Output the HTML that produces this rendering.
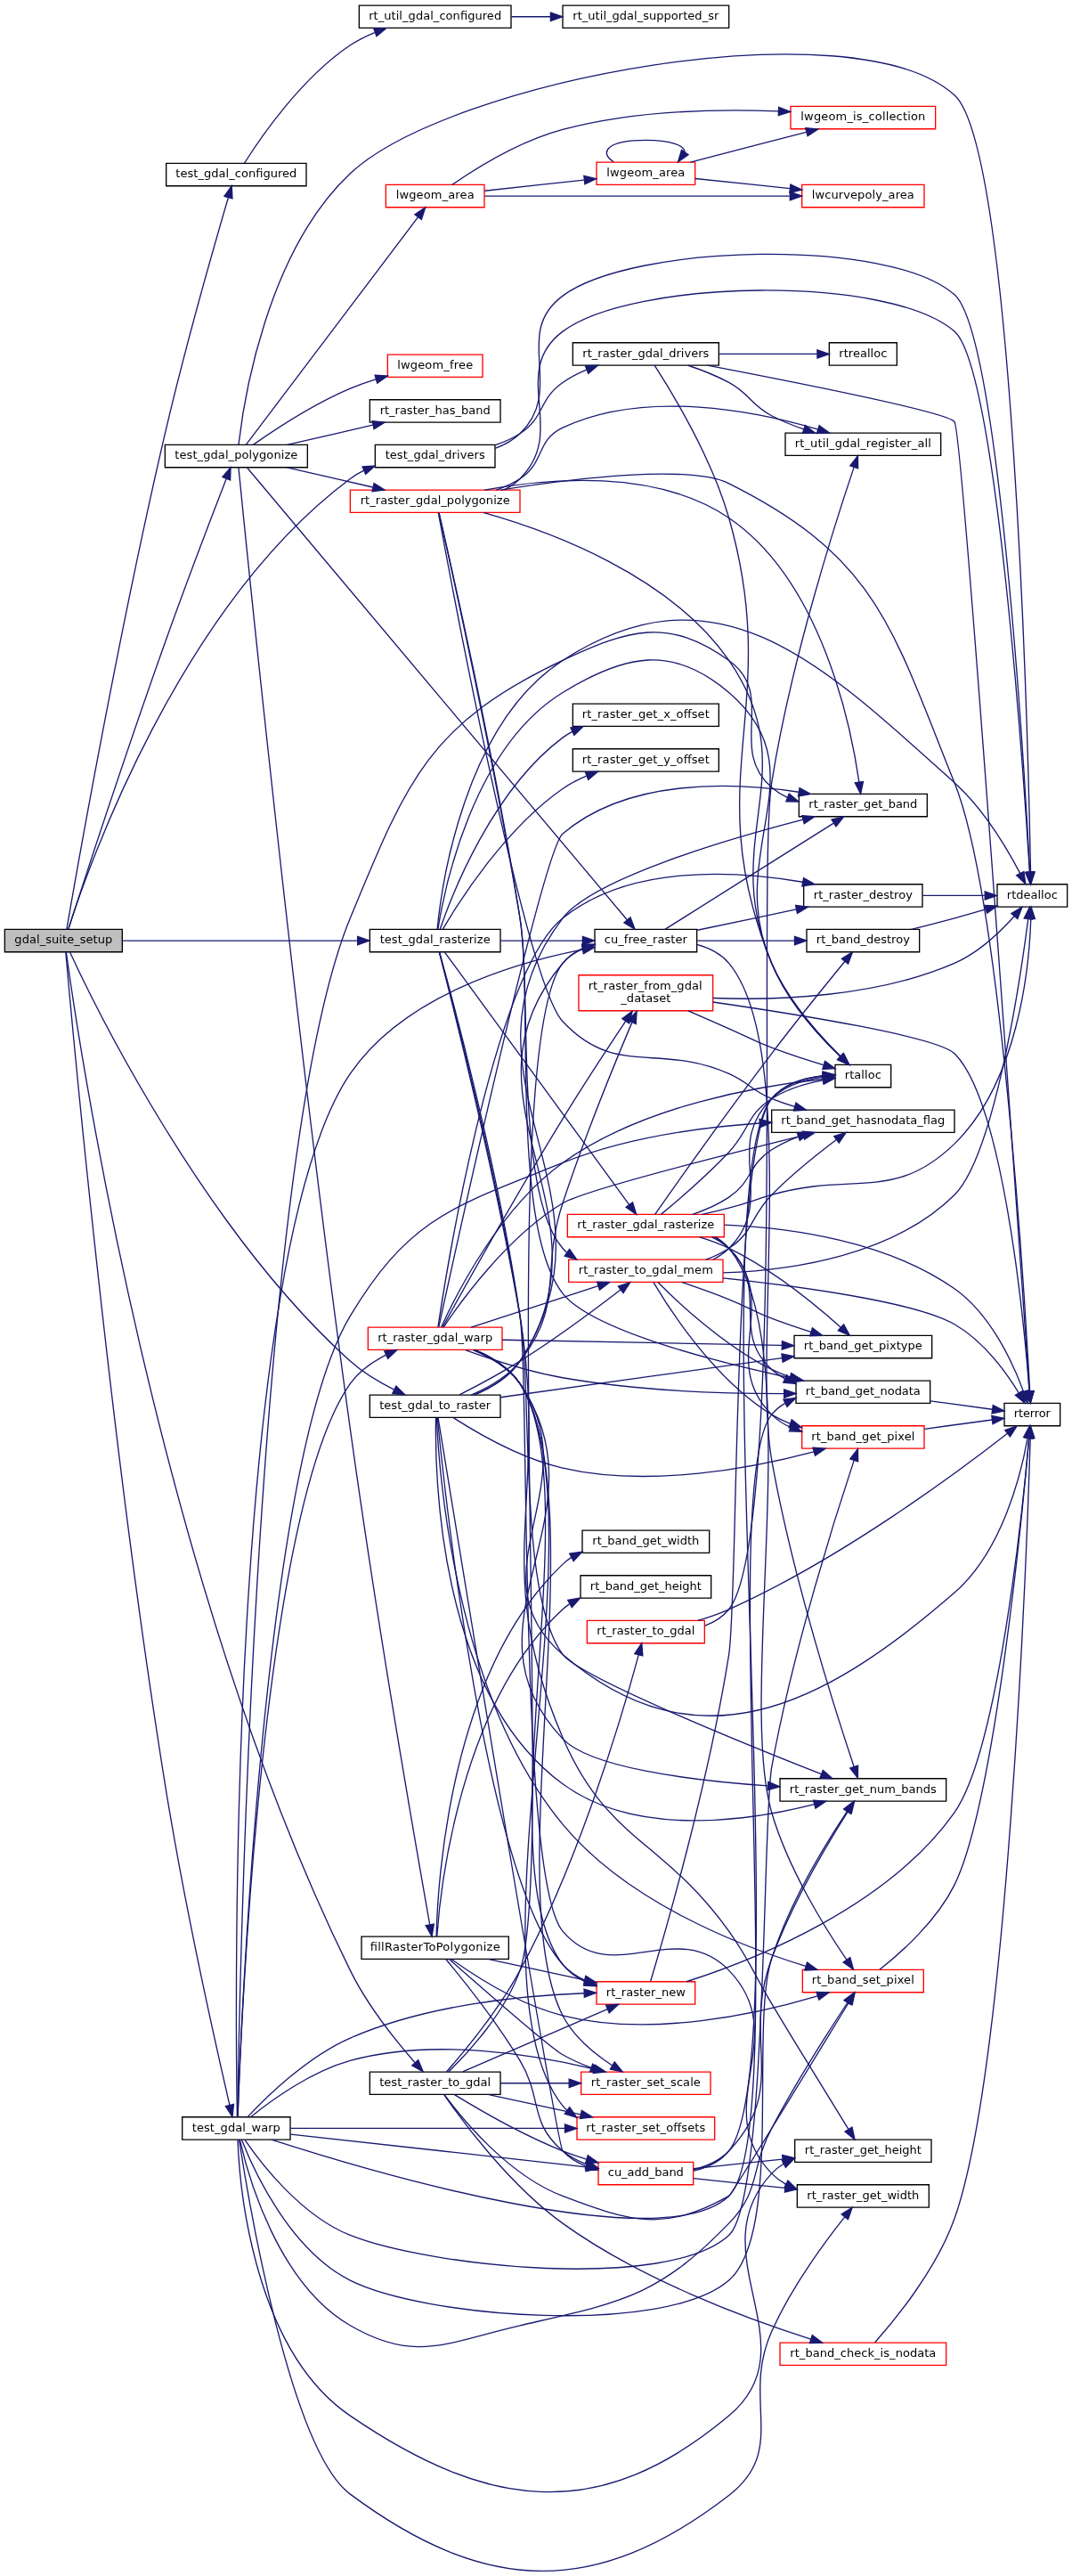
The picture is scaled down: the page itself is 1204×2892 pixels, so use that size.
<!DOCTYPE html>
<html><head><meta charset="utf-8"><title>gdal_suite_setup call graph</title>
<style>
html,body{margin:0;padding:0;background:#fff;overflow:hidden}
svg{display:block;will-change:transform}
svg text{font-family:"DejaVu Sans","Liberation Sans",sans-serif;font-size:9.75px;}
</style></head><body>
<svg width="903pt" height="2169pt"
 viewBox="0.00 0.00 903.00 2168.83">
<g id="graph0" class="graph" transform="scale(1 1) rotate(0) translate(4 2164.83)">
<polygon fill="white" stroke="transparent" points="-4,4 -4,-2164.83 899,-2164.83 899,4 -4,4"/>
<g id="node1" class="node">
<polygon fill="#bfbfbf" stroke="black" points="0,-1363.33 0,-1382.33 99,-1382.33 99,-1363.33 0,-1363.33"/>
<text text-anchor="middle" x="49.5" y="-1370.33" textLength="82.50">gdal_suite_setup</text>
</g>
<g id="node2" class="node">
<polygon fill="white" stroke="black" points="136,-2008.33 136,-2027.33 254,-2027.33 254,-2008.33 136,-2008.33"/>
<text text-anchor="middle" x="195" y="-2015.33" textLength="102.00">test_gdal_configured</text>
</g>
<g id="edge1" class="edge">
<path fill="none" stroke="midnightblue" d="M52.16,-1382.5C60.18,-1428.97 96.18,-1633.9 135,-1799.83 152.32,-1873.84 177.24,-1960.77 188.32,-1998.61"/>
<polygon fill="midnightblue" stroke="midnightblue" points="185,-1999.72 191.18,-2008.32 191.71,-1997.74 185,-1999.72"/>
</g>
<g id="node5" class="node">
<polygon fill="white" stroke="black" points="312,-1771.33 312,-1790.33 413,-1790.33 413,-1771.33 312,-1771.33"/>
<text text-anchor="middle" x="362.5" y="-1778.33" textLength="84.00">test_gdal_drivers</text>
</g>
<g id="edge4" class="edge">
<path fill="none" stroke="midnightblue" d="M53.49,-1382.53C69.15,-1431.58 146.45,-1654.17 291,-1761.83 294.59,-1764.5 298.52,-1766.79 302.64,-1768.77"/>
<polygon fill="midnightblue" stroke="midnightblue" points="301.32,-1772 311.9,-1772.59 303.99,-1765.54 301.32,-1772"/>
</g>
<g id="node12" class="node">
<polygon fill="white" stroke="black" points="135,-1771.33 135,-1790.33 255,-1790.33 255,-1771.33 135,-1771.33"/>
<text text-anchor="middle" x="195" y="-1778.33" textLength="103.50">test_gdal_polygonize</text>
</g>
<g id="edge11" class="edge">
<path fill="none" stroke="midnightblue" d="M53.6,-1382.44C64.43,-1415.9 101.68,-1530.27 135,-1623.83 152.83,-1673.91 175.24,-1732.41 186.63,-1761.85"/>
<polygon fill="midnightblue" stroke="midnightblue" points="183.42,-1763.25 190.29,-1771.31 189.94,-1760.72 183.42,-1763.25"/>
</g>
<g id="node39" class="node">
<polygon fill="white" stroke="black" points="307.5,-1363.33 307.5,-1382.33 417.5,-1382.33 417.5,-1363.33 307.5,-1363.33"/>
<text text-anchor="middle" x="362.5" y="-1370.33" textLength="93.00">test_gdal_rasterize</text>
</g>
<g id="edge61" class="edge">
<path fill="none" stroke="midnightblue" d="M99.09,-1372.83C152.36,-1372.83 238.06,-1372.83 296.94,-1372.83"/>
<polygon fill="midnightblue" stroke="midnightblue" points="297.24,-1376.33 307.24,-1372.83 297.24,-1369.33 297.24,-1376.33"/>
</g>
<g id="node43" class="node">
<polygon fill="white" stroke="black" points="307.5,-971.33 307.5,-990.33 417.5,-990.33 417.5,-971.33 307.5,-971.33"/>
<text text-anchor="middle" x="362.5" y="-978.33" textLength="93.75">test_gdal_to_raster</text>
</g>
<g id="edge80" class="edge">
<path fill="none" stroke="midnightblue" d="M54.9,-1363.14C75.57,-1318.57 167.17,-1130.58 291,-1018.83 301.78,-1009.1 315.49,-1000.99 327.95,-994.79"/>
<polygon fill="midnightblue" stroke="midnightblue" points="329.62,-997.87 337.16,-990.43 326.62,-991.54 329.62,-997.87"/>
</g>
<g id="node45" class="node">
<polygon fill="white" stroke="black" points="149.5,-363.33 149.5,-382.33 240.5,-382.33 240.5,-363.33 149.5,-363.33"/>
<text text-anchor="middle" x="195" y="-370.33" textLength="74.25">test_gdal_warp</text>
</g>
<g id="edge94" class="edge">
<path fill="none" stroke="midnightblue" d="M51.35,-1363.18C56.88,-1300.77 89.14,-947.77 135,-662.83 151.48,-560.43 178.65,-439.21 189.41,-392.52"/>
<polygon fill="midnightblue" stroke="midnightblue" points="192.87,-393.07 191.72,-382.54 186.06,-391.49 192.87,-393.07"/>
</g>
<g id="node48" class="node">
<polygon fill="white" stroke="black" points="307.5,-401.33 307.5,-420.33 417.5,-420.33 417.5,-401.33 307.5,-401.33"/>
<text text-anchor="middle" x="362.5" y="-408.33" textLength="93.75">test_raster_to_gdal</text>
</g>
<g id="edge122" class="edge">
<path fill="none" stroke="midnightblue" d="M51.82,-1362.93C61.73,-1290.45 128.81,-835.13 291,-505.83 305.51,-476.38 329.38,-446.67 345.27,-428.5"/>
<polygon fill="midnightblue" stroke="midnightblue" points="348.31,-430.36 352.36,-420.56 343.09,-425.7 348.31,-430.36"/>
</g>
<g id="node3" class="node">
<polygon fill="white" stroke="black" points="298.5,-2141.33 298.5,-2160.33 426.5,-2160.33 426.5,-2141.33 298.5,-2141.33"/>
<text text-anchor="middle" x="362.5" y="-2148.33" textLength="111.75">rt_util_gdal_configured</text>
</g>
<g id="edge2" class="edge">
<path fill="none" stroke="midnightblue" d="M201.86,-2027.49C215.12,-2048.57 249.52,-2098.99 291,-2126.83 297.27,-2131.04 304.36,-2134.58 311.55,-2137.53"/>
<polygon fill="midnightblue" stroke="midnightblue" points="310.78,-2140.98 321.37,-2141.2 313.23,-2134.42 310.78,-2140.98"/>
</g>
<g id="node4" class="node">
<polygon fill="white" stroke="black" points="470,-2141.33 470,-2160.33 610,-2160.33 610,-2141.33 470,-2141.33"/>
<text text-anchor="middle" x="540" y="-2148.33" textLength="123.00">rt_util_gdal_supported_sr</text>
</g>
<g id="edge3" class="edge">
<path fill="none" stroke="midnightblue" d="M426.86,-2150.83C437.53,-2150.83 448.73,-2150.83 459.75,-2150.83"/>
<polygon fill="midnightblue" stroke="midnightblue" points="459.8,-2154.33 469.8,-2150.83 459.8,-2147.33 459.8,-2154.33"/>
</g>
<g id="node6" class="node">
<polygon fill="white" stroke="black" points="478.5,-1857.33 478.5,-1876.33 601.5,-1876.33 601.5,-1857.33 478.5,-1857.33"/>
<text text-anchor="middle" x="540" y="-1864.33" textLength="106.50">rt_raster_gdal_drivers</text>
</g>
<g id="edge5" class="edge">
<path fill="none" stroke="midnightblue" d="M413.3,-1790.11C420.56,-1792.62 427.7,-1795.8 434,-1799.83 455,-1813.25 449.49,-1828.67 470,-1842.83 476.1,-1847.04 483.01,-1850.58 490.04,-1853.53"/>
<polygon fill="midnightblue" stroke="midnightblue" points="489.05,-1856.9 499.64,-1857.21 491.56,-1850.36 489.05,-1856.9"/>
</g>
<g id="node11" class="node">
<polygon fill="white" stroke="black" points="836,-1401.33 836,-1420.33 895,-1420.33 895,-1401.33 836,-1401.33"/>
<text text-anchor="middle" x="865.5" y="-1408.33" textLength="42.75">rtdealloc</text>
</g>
<g id="edge10" class="edge">
<path fill="none" stroke="midnightblue" d="M413.12,-1787.36C420.83,-1790.2 428.16,-1794.2 434,-1799.83 472.88,-1837.27 426.63,-1883.69 470,-1915.83 528.92,-1959.49 744.96,-1965.29 800,-1916.83 837.25,-1884.03 858.72,-1520.66 863.48,-1430.82"/>
<polygon fill="midnightblue" stroke="midnightblue" points="866.99,-1430.81 864.01,-1420.64 860,-1430.44 866.99,-1430.81"/>
</g>
<g id="node7" class="node">
<polygon fill="white" stroke="black" points="657.5,-1781.33 657.5,-1800.33 788.5,-1800.33 788.5,-1781.33 657.5,-1781.33"/>
<text text-anchor="middle" x="723" y="-1788.33" textLength="114.75">rt_util_gdal_register_all</text>
</g>
<g id="edge6" class="edge">
<path fill="none" stroke="midnightblue" d="M575.63,-1857.23C586.92,-1853.47 599.3,-1848.64 610,-1842.83 627.81,-1833.15 628.05,-1824.25 646,-1814.83 654.46,-1810.39 663.88,-1806.6 673.13,-1803.43"/>
<polygon fill="midnightblue" stroke="midnightblue" points="674.22,-1806.75 682.66,-1800.35 672.07,-1800.09 674.22,-1806.75"/>
</g>
<g id="node8" class="node">
<polygon fill="white" stroke="black" points="699.5,-1249.33 699.5,-1268.33 746.5,-1268.33 746.5,-1249.33 699.5,-1249.33"/>
<text text-anchor="middle" x="723" y="-1256.33" textLength="30.75">rtalloc</text>
</g>
<g id="edge7" class="edge">
<path fill="none" stroke="midnightblue" d="M547.34,-1857.3C561.42,-1835.58 595.21,-1780.32 610,-1728.83 656.22,-1567.9 583.08,-1508.99 646,-1353.83 658.73,-1322.43 685.35,-1293.07 703.46,-1275.53"/>
<polygon fill="midnightblue" stroke="midnightblue" points="706.21,-1277.74 711.09,-1268.34 701.41,-1272.65 706.21,-1277.74"/>
</g>
<g id="node9" class="node">
<polygon fill="white" stroke="black" points="842,-964.33 842,-983.33 889,-983.33 889,-964.33 842,-964.33"/>
<text text-anchor="middle" x="865.5" y="-971.33" textLength="30.75">rterror</text>
</g>
<g id="edge8" class="edge">
<path fill="none" stroke="midnightblue" d="M591.69,-1857.27C665.12,-1843.21 793.13,-1817.73 800,-1809.83 806.94,-1801.85 854.47,-1118.85 863.14,-993.48"/>
<polygon fill="midnightblue" stroke="midnightblue" points="866.64,-993.62 863.84,-983.41 859.66,-993.14 866.64,-993.62"/>
</g>
<g id="node10" class="node">
<polygon fill="white" stroke="black" points="694.5,-1857.33 694.5,-1876.33 751.5,-1876.33 751.5,-1857.33 694.5,-1857.33"/>
<text text-anchor="middle" x="723" y="-1864.33" textLength="40.50">rtrealloc</text>
</g>
<g id="edge9" class="edge">
<path fill="none" stroke="midnightblue" d="M601.52,-1866.83C628.92,-1866.83 660.44,-1866.83 684.37,-1866.83"/>
<polygon fill="midnightblue" stroke="midnightblue" points="684.46,-1870.33 694.46,-1866.83 684.46,-1863.33 684.46,-1870.33"/>
</g>
<g id="edge60" class="edge">
<path fill="none" stroke="midnightblue" d="M196.99,-1790.61C201.13,-1826.51 220.35,-1952.38 291,-2018.83 374.09,-2096.97 715.59,-2161.54 800,-2084.83 849.73,-2039.63 862.08,-1537.41 864.15,-1430.69"/>
<polygon fill="midnightblue" stroke="midnightblue" points="867.65,-1430.7 864.34,-1420.64 860.65,-1430.57 867.65,-1430.7"/>
</g>
<g id="node13" class="node">
<polygon fill="white" stroke="black" points="497,-1363.33 497,-1382.33 583,-1382.33 583,-1363.33 497,-1363.33"/>
<text text-anchor="middle" x="540" y="-1370.33" textLength="69.75">cu_free_raster</text>
</g>
<g id="edge12" class="edge">
<path fill="none" stroke="midnightblue" d="M204.14,-1771.14C248.89,-1717.91 465.11,-1460.72 524.1,-1390.55"/>
<polygon fill="midnightblue" stroke="midnightblue" points="527.03,-1392.51 530.78,-1382.6 521.67,-1388 527.03,-1392.51"/>
</g>
<g id="node18" class="node">
<polygon fill="white" stroke="black" points="300.5,-515.33 300.5,-534.33 424.5,-534.33 424.5,-515.33 300.5,-515.33"/>
<text text-anchor="middle" x="362.5" y="-522.33" textLength="109.49">fillRasterToPolygonize</text>
</g>
<g id="edge19" class="edge">
<path fill="none" stroke="midnightblue" d="M196.97,-1771.07C203.72,-1703.13 245.02,-1293.61 291,-961.83 313.4,-800.21 347.14,-606.08 358,-544.54"/>
<polygon fill="midnightblue" stroke="midnightblue" points="361.51,-544.79 359.8,-534.34 354.62,-543.57 361.51,-544.79"/>
</g>
<g id="node27" class="node">
<polygon fill="white" stroke="red" points="321,-1990.33 321,-2009.33 404,-2009.33 404,-1990.33 321,-1990.33"/>
<text text-anchor="middle" x="362.5" y="-1997.33" textLength="66.00">lwgeom_area</text>
</g>
<g id="edge33" class="edge">
<path fill="none" stroke="midnightblue" d="M203.32,-1790.52C228.96,-1824.44 314.88,-1938.13 348.17,-1982.18"/>
<polygon fill="midnightblue" stroke="midnightblue" points="345.44,-1984.38 354.26,-1990.25 351.02,-1980.16 345.44,-1984.38"/>
</g>
<g id="node31" class="node">
<polygon fill="white" stroke="red" points="322.5,-1847.33 322.5,-1866.33 402.5,-1866.33 402.5,-1847.33 322.5,-1847.33"/>
<text text-anchor="middle" x="362.5" y="-1854.33" textLength="63.75">lwgeom_free</text>
</g>
<g id="edge40" class="edge">
<path fill="none" stroke="midnightblue" d="M209.21,-1790.38C227,-1802.86 260.02,-1824.66 291,-1837.83 297.82,-1840.72 305.2,-1843.29 312.52,-1845.52"/>
<polygon fill="midnightblue" stroke="midnightblue" points="311.85,-1848.97 322.43,-1848.36 313.78,-1842.24 311.85,-1848.97"/>
</g>
<g id="node32" class="node">
<polygon fill="white" stroke="red" points="291,-1733.33 291,-1752.33 434,-1752.33 434,-1733.33 291,-1733.33"/>
<text text-anchor="middle" x="362.5" y="-1740.33" textLength="126.00">rt_raster_gdal_polygonize</text>
</g>
<g id="edge41" class="edge">
<path fill="none" stroke="midnightblue" d="M237.76,-1771.24C259.7,-1766.2 286.78,-1759.98 310.01,-1754.65"/>
<polygon fill="midnightblue" stroke="midnightblue" points="311.07,-1758 320.04,-1752.35 309.51,-1751.17 311.07,-1758"/>
</g>
<g id="node38" class="node">
<polygon fill="white" stroke="black" points="307.5,-1809.33 307.5,-1828.33 417.5,-1828.33 417.5,-1809.33 307.5,-1809.33"/>
<text text-anchor="middle" x="362.5" y="-1816.33" textLength="93.00">rt_raster_has_band</text>
</g>
<g id="edge59" class="edge">
<path fill="none" stroke="midnightblue" d="M237.76,-1790.42C259.7,-1795.45 286.78,-1801.67 310.01,-1807"/>
<polygon fill="midnightblue" stroke="midnightblue" points="309.51,-1810.48 320.04,-1809.31 311.07,-1803.66 309.51,-1810.48"/>
</g>
<g id="node14" class="node">
<polygon fill="white" stroke="black" points="675.5,-1363.33 675.5,-1382.33 770.5,-1382.33 770.5,-1363.33 675.5,-1363.33"/>
<text text-anchor="middle" x="723" y="-1370.33" textLength="78.75">rt_band_destroy</text>
</g>
<g id="edge13" class="edge">
<path fill="none" stroke="midnightblue" d="M583.44,-1372.83C607.79,-1372.83 638.68,-1372.83 665.12,-1372.83"/>
<polygon fill="midnightblue" stroke="midnightblue" points="665.38,-1376.33 675.38,-1372.83 665.38,-1369.33 665.38,-1376.33"/>
</g>
<g id="node15" class="node">
<polygon fill="white" stroke="black" points="673,-1401.33 673,-1420.33 773,-1420.33 773,-1401.33 673,-1401.33"/>
<text text-anchor="middle" x="723" y="-1408.33" textLength="83.25">rt_raster_destroy</text>
</g>
<g id="edge15" class="edge">
<path fill="none" stroke="midnightblue" d="M583.44,-1381.74C608.27,-1386.95 639.9,-1393.59 666.67,-1399.21"/>
<polygon fill="midnightblue" stroke="midnightblue" points="666.16,-1402.68 676.67,-1401.31 667.6,-1395.83 666.16,-1402.68"/>
</g>
<g id="node16" class="node">
<polygon fill="white" stroke="black" points="669,-1477.33 669,-1496.33 777,-1496.33 777,-1477.33 669,-1477.33"/>
<text text-anchor="middle" x="723" y="-1484.33" textLength="91.50">rt_raster_get_band</text>
</g>
<g id="edge17" class="edge">
<path fill="none" stroke="midnightblue" d="M556.12,-1382.35C587.53,-1402.13 660.06,-1447.81 697.95,-1471.68"/>
<polygon fill="midnightblue" stroke="midnightblue" points="696.47,-1474.88 706.8,-1477.25 700.2,-1468.96 696.47,-1474.88"/>
</g>
<g id="node17" class="node">
<polygon fill="white" stroke="black" points="653,-648.33 653,-667.33 793,-667.33 793,-648.33 653,-648.33"/>
<text text-anchor="middle" x="723" y="-655.33" textLength="123.75">rt_raster_get_num_bands</text>
</g>
<g id="edge18" class="edge">
<path fill="none" stroke="midnightblue" d="M583.19,-1369.59C593.37,-1366.77 603.24,-1361.95 610,-1353.83 669.63,-1282.16 629.64,-1027.61 646,-935.83 663.6,-837.08 700.24,-722.51 715.31,-677.45"/>
<polygon fill="midnightblue" stroke="midnightblue" points="718.69,-678.37 718.57,-667.77 712.06,-676.13 718.69,-678.37"/>
</g>
<g id="edge14" class="edge">
<path fill="none" stroke="midnightblue" d="M763.53,-1382.38C775.29,-1385.31 788.19,-1388.61 800,-1391.83 808.5,-1394.14 817.59,-1396.74 826.19,-1399.26"/>
<polygon fill="midnightblue" stroke="midnightblue" points="825.41,-1402.68 836,-1402.15 827.4,-1395.96 825.41,-1402.68"/>
</g>
<g id="edge16" class="edge">
<path fill="none" stroke="midnightblue" d="M773.14,-1410.83C790.28,-1410.83 809.26,-1410.83 825.47,-1410.83"/>
<polygon fill="midnightblue" stroke="midnightblue" points="825.67,-1414.33 835.66,-1410.83 825.66,-1407.33 825.67,-1414.33"/>
</g>
<g id="node19" class="node">
<polygon fill="white" stroke="red" points="500,-325.33 500,-344.33 580,-344.33 580,-325.33 500,-325.33"/>
<text text-anchor="middle" x="540" y="-332.33" textLength="63.75">cu_add_band</text>
</g>
<g id="edge20" class="edge">
<path fill="none" stroke="midnightblue" d="M371.58,-515.29C385.43,-498.65 414.13,-462.94 434,-429.83 453.23,-397.78 441.38,-377.86 470,-353.83 475.76,-348.99 482.65,-345.38 489.81,-342.69"/>
<polygon fill="midnightblue" stroke="midnightblue" points="491.2,-345.92 499.67,-339.55 489.08,-339.25 491.2,-345.92"/>
</g>
<g id="node22" class="node">
<polygon fill="white" stroke="black" points="485,-819.33 485,-838.33 595,-838.33 595,-819.33 485,-819.33"/>
<text text-anchor="middle" x="540" y="-826.33" textLength="93.75">rt_band_get_height</text>
</g>
<g id="edge25" class="edge">
<path fill="none" stroke="midnightblue" d="M364.06,-534.38C366.93,-574.48 383.48,-730.68 470,-809.83 471.75,-811.43 473.62,-812.9 475.59,-814.24"/>
<polygon fill="midnightblue" stroke="midnightblue" points="474.31,-817.54 484.74,-819.39 477.74,-811.44 474.31,-817.54"/>
</g>
<g id="node23" class="node">
<polygon fill="white" stroke="black" points="486.5,-857.33 486.5,-876.33 593.5,-876.33 593.5,-857.33 486.5,-857.33"/>
<text text-anchor="middle" x="540" y="-864.33" textLength="90.00">rt_band_get_width</text>
</g>
<g id="edge26" class="edge">
<path fill="none" stroke="midnightblue" d="M363.58,-534.43C364.51,-577.74 374.18,-756.66 470,-847.83 472.27,-849.98 474.76,-851.9 477.4,-853.6"/>
<polygon fill="midnightblue" stroke="midnightblue" points="475.83,-856.73 486.3,-858.34 479.12,-850.55 475.83,-856.73"/>
</g>
<g id="node24" class="node">
<polygon fill="white" stroke="red" points="672,-487.33 672,-506.33 774,-506.33 774,-487.33 672,-487.33"/>
<text text-anchor="middle" x="723" y="-494.33" textLength="86.25">rt_band_set_pixel</text>
</g>
<g id="edge27" class="edge">
<path fill="none" stroke="midnightblue" d="M376.4,-515.17C395.61,-501.46 433.39,-477.01 470,-467.83 544.73,-449.09 635.01,-469.5 684.69,-484.31"/>
<polygon fill="midnightblue" stroke="midnightblue" points="683.77,-487.69 694.36,-487.28 685.82,-481 683.77,-487.69"/>
</g>
<g id="node25" class="node">
<polygon fill="white" stroke="red" points="498.5,-477.33 498.5,-496.33 581.5,-496.33 581.5,-477.33 498.5,-477.33"/>
<text text-anchor="middle" x="540" y="-484.33" textLength="66.75">rt_raster_new</text>
</g>
<g id="edge29" class="edge">
<path fill="none" stroke="midnightblue" d="M407.79,-515.24C432.35,-509.92 462.99,-503.29 488.48,-497.77"/>
<polygon fill="midnightblue" stroke="midnightblue" points="489.3,-501.17 498.34,-495.63 487.82,-494.33 489.3,-501.17"/>
</g>
<g id="node26" class="node">
<polygon fill="white" stroke="red" points="485.5,-401.33 485.5,-420.33 594.5,-420.33 594.5,-401.33 485.5,-401.33"/>
<text text-anchor="middle" x="540" y="-408.33" textLength="92.25">rt_raster_set_scale</text>
</g>
<g id="edge32" class="edge">
<path fill="none" stroke="midnightblue" d="M374.3,-515.31C399.21,-493.42 459.38,-440.88 470,-434.83 477.44,-430.58 485.76,-426.91 493.98,-423.8"/>
<polygon fill="midnightblue" stroke="midnightblue" points="495.27,-427.05 503.52,-420.4 492.92,-420.46 495.27,-427.05"/>
</g>
<g id="edge24" class="edge">
<path fill="none" stroke="midnightblue" d="M580.19,-337.04C591.5,-339.69 602.73,-344.68 610,-353.83 671.29,-430.97 583.8,-1163.42 646,-1239.83 656.25,-1252.43 673.48,-1257.4 688.95,-1259.13"/>
<polygon fill="midnightblue" stroke="midnightblue" points="689.04,-1262.65 699.26,-1259.86 689.53,-1255.66 689.04,-1262.65"/>
</g>
<g id="edge22" class="edge">
<path fill="none" stroke="midnightblue" d="M580.33,-338.12C591.24,-340.87 602.21,-345.63 610,-353.83 660.83,-407.27 620.36,-446.67 646,-515.83 663.4,-562.76 693.63,-613.49 710.24,-639.76"/>
<polygon fill="midnightblue" stroke="midnightblue" points="707.35,-641.74 715.69,-648.28 713.25,-637.97 707.35,-641.74"/>
</g>
<g id="node20" class="node">
<polygon fill="white" stroke="black" points="665.5,-344.33 665.5,-363.33 780.5,-363.33 780.5,-344.33 665.5,-344.33"/>
<text text-anchor="middle" x="723" y="-351.33" textLength="98.25">rt_raster_get_height</text>
</g>
<g id="edge21" class="edge">
<path fill="none" stroke="midnightblue" d="M580.27,-338.95C602.11,-341.24 629.89,-344.16 655.05,-346.8"/>
<polygon fill="midnightblue" stroke="midnightblue" points="654.97,-350.31 665.28,-347.87 655.7,-343.35 654.97,-350.31"/>
</g>
<g id="node21" class="node">
<polygon fill="white" stroke="black" points="667.5,-306.33 667.5,-325.33 778.5,-325.33 778.5,-306.33 667.5,-306.33"/>
<text text-anchor="middle" x="723" y="-313.33" textLength="94.50">rt_raster_get_width</text>
</g>
<g id="edge23" class="edge">
<path fill="none" stroke="midnightblue" d="M580.27,-330.7C602.76,-328.34 631.54,-325.32 657.29,-322.62"/>
<polygon fill="midnightblue" stroke="midnightblue" points="657.77,-326.09 667.35,-321.56 657.04,-319.13 657.77,-326.09"/>
</g>
<g id="edge28" class="edge">
<path fill="none" stroke="midnightblue" d="M736.94,-506.46C754.36,-520.21 784.92,-547.21 800,-577.83 833.44,-645.76 856.6,-883.89 862.82,-954.16"/>
<polygon fill="midnightblue" stroke="midnightblue" points="859.35,-954.62 863.7,-964.28 866.32,-954.01 859.35,-954.62"/>
</g>
<g id="edge30" class="edge">
<path fill="none" stroke="midnightblue" d="M543.96,-496.56C554.81,-532.62 592.63,-662.21 610,-771.83 618.16,-823.34 612.35,-1199.98 646,-1239.83 656.48,-1252.24 673.72,-1257.2 689.14,-1258.97"/>
<polygon fill="midnightblue" stroke="midnightblue" points="689.18,-1262.48 699.41,-1259.73 689.7,-1255.5 689.18,-1262.48"/>
</g>
<g id="edge31" class="edge">
<path fill="none" stroke="midnightblue" d="M574.14,-496.36C630.27,-514.33 743.44,-558.78 800,-638.83 836.6,-690.62 857.1,-890.17 862.83,-954.04"/>
<polygon fill="midnightblue" stroke="midnightblue" points="859.34,-954.36 863.7,-964.02 866.31,-953.75 859.34,-954.36"/>
</g>
<g id="node28" class="node">
<polygon fill="white" stroke="red" points="671.5,-1990.33 671.5,-2009.33 774.5,-2009.33 774.5,-1990.33 671.5,-1990.33"/>
<text text-anchor="middle" x="723" y="-1997.33" textLength="86.25">lwcurvepoly_area</text>
</g>
<g id="edge34" class="edge">
<path fill="none" stroke="midnightblue" d="M404.28,-1999.83C467.07,-1999.83 587.84,-1999.83 661.05,-1999.83"/>
<polygon fill="midnightblue" stroke="midnightblue" points="661.49,-2003.33 671.49,-1999.83 661.49,-1996.33 661.49,-2003.33"/>
</g>
<g id="node29" class="node">
<polygon fill="white" stroke="red" points="498.5,-2009.33 498.5,-2028.33 581.5,-2028.33 581.5,-2009.33 498.5,-2009.33"/>
<text text-anchor="middle" x="540" y="-2016.33" textLength="66.00">lwgeom_area</text>
</g>
<g id="edge35" class="edge">
<path fill="none" stroke="midnightblue" d="M404.2,-2004.23C429.14,-2006.93 461.28,-2010.41 487.92,-2013.3"/>
<polygon fill="midnightblue" stroke="midnightblue" points="487.89,-2016.81 498.21,-2014.41 488.65,-2009.86 487.89,-2016.81"/>
</g>
<g id="node30" class="node">
<polygon fill="white" stroke="red" points="662,-2056.33 662,-2075.33 784,-2075.33 784,-2056.33 662,-2056.33"/>
<text text-anchor="middle" x="723" y="-2063.33" textLength="105.00">lwgeom_is_collection</text>
</g>
<g id="edge39" class="edge">
<path fill="none" stroke="midnightblue" d="M376.81,-2009.35C396.2,-2022.62 433.88,-2046.15 470,-2055.83 529.74,-2071.84 600.29,-2073.23 651.52,-2071.25"/>
<polygon fill="midnightblue" stroke="midnightblue" points="651.99,-2074.73 661.82,-2070.8 651.68,-2067.74 651.99,-2074.73"/>
</g>
<g id="edge36" class="edge">
<path fill="none" stroke="midnightblue" d="M581.62,-2014.56C605.08,-2012.1 635.05,-2008.95 661.27,-2006.2"/>
<polygon fill="midnightblue" stroke="midnightblue" points="661.91,-2009.65 671.49,-2005.13 661.18,-2002.69 661.91,-2009.65"/>
</g>
<g id="edge37" class="edge">
<path fill="none" stroke="midnightblue" d="M512.87,-2028.58C499.68,-2037.39 508.72,-2046.83 540,-2046.83 561.51,-2046.83 572.5,-2042.37 572.98,-2036.72"/>
<polygon fill="midnightblue" stroke="midnightblue" points="575.81,-2034.65 567.13,-2028.58 570.13,-2038.74 575.81,-2034.65"/>
</g>
<g id="edge38" class="edge">
<path fill="none" stroke="midnightblue" d="M577.63,-2028.34C605.75,-2035.64 644.78,-2045.78 675.17,-2053.67"/>
<polygon fill="midnightblue" stroke="midnightblue" points="674.56,-2057.12 685.12,-2056.25 676.32,-2050.35 674.56,-2057.12"/>
</g>
<g id="edge55" class="edge">
<path fill="none" stroke="midnightblue" d="M414.03,-1752.37C421.04,-1754.84 427.91,-1757.94 434,-1761.83 455,-1775.25 447.42,-1794.28 470,-1804.83 540.35,-1837.68 634.04,-1818.35 685.06,-1803.33"/>
<polygon fill="midnightblue" stroke="midnightblue" points="686.12,-1806.66 694.67,-1800.4 684.08,-1799.97 686.12,-1806.66"/>
</g>
<g id="edge56" class="edge">
<path fill="none" stroke="midnightblue" d="M403.03,-1733.33C459.02,-1717.64 560.16,-1680.66 610,-1608.83 675.25,-1514.79 600.64,-1458.91 646,-1353.83 659.43,-1322.72 685.87,-1293.29 703.75,-1275.65"/>
<polygon fill="midnightblue" stroke="midnightblue" points="706.49,-1277.87 711.28,-1268.42 701.64,-1272.82 706.49,-1277.87"/>
</g>
<g id="edge58" class="edge">
<path fill="none" stroke="midnightblue" d="M417.77,-1752.36C479.96,-1762.2 577.48,-1774.04 610,-1757.83 735.54,-1695.26 747.54,-1635.91 800,-1505.83 838.76,-1409.72 858.9,-1078.05 863.48,-993.54"/>
<polygon fill="midnightblue" stroke="midnightblue" points="866.98,-993.68 864.01,-983.5 859.99,-993.3 866.98,-993.68"/>
</g>
<g id="edge57" class="edge">
<path fill="none" stroke="midnightblue" d="M420.62,-1752.47C425.54,-1754.94 430.11,-1758.01 434,-1761.83 474.97,-1802.01 424.11,-1851.37 470,-1885.83 528.64,-1929.86 744.77,-1934.07 800,-1885.83 834.98,-1855.27 858,-1516.8 863.32,-1430.67"/>
<polygon fill="midnightblue" stroke="midnightblue" points="866.83,-1430.64 863.94,-1420.45 859.84,-1430.22 866.83,-1430.64"/>
</g>
<g id="edge45" class="edge">
<path fill="none" stroke="midnightblue" d="M404.19,-1752.34C456.61,-1762.16 548.32,-1770.76 610,-1728.83 687.98,-1675.82 712.77,-1553.98 719.65,-1506.38"/>
<polygon fill="midnightblue" stroke="midnightblue" points="723.12,-1506.82 720.98,-1496.44 716.18,-1505.89 723.12,-1506.82"/>
</g>
<g id="node33" class="node">
<polygon fill="white" stroke="black" points="646,-1211.33 646,-1230.33 800,-1230.33 800,-1211.33 646,-1211.33"/>
<text text-anchor="middle" x="723" y="-1218.33" textLength="138.00">rt_band_get_hasnodata_flag</text>
</g>
<g id="edge42" class="edge">
<path fill="none" stroke="midnightblue" d="M365.24,-1733.27C376.45,-1672.2 438.91,-1338.03 470,-1304.83 514.57,-1257.21 550.35,-1287.2 610,-1260.83 626.94,-1253.34 628.84,-1246.81 646,-1239.83 652.18,-1237.31 658.78,-1235.06 665.41,-1233.07"/>
<polygon fill="midnightblue" stroke="midnightblue" points="666.44,-1236.42 675.11,-1230.34 664.54,-1229.68 666.44,-1236.42"/>
</g>
<g id="node34" class="node">
<polygon fill="white" stroke="black" points="666.5,-983.33 666.5,-1002.33 779.5,-1002.33 779.5,-983.33 666.5,-983.33"/>
<text text-anchor="middle" x="723" y="-990.33" textLength="96.75">rt_band_get_nodata</text>
</g>
<g id="edge43" class="edge">
<path fill="none" stroke="midnightblue" d="M365.77,-1733.11C375.29,-1691.99 412.59,-1528.14 434,-1391.83 444.97,-1322.01 426.24,-1131.32 470,-1075.83 494.11,-1045.25 596.29,-1018.86 662.9,-1004.46"/>
<polygon fill="midnightblue" stroke="midnightblue" points="663.81,-1007.85 672.86,-1002.34 662.36,-1001 663.81,-1007.85"/>
</g>
<g id="node35" class="node">
<polygon fill="white" stroke="red" points="475,-1085.33 475,-1104.33 605,-1104.33 605,-1085.33 475,-1085.33"/>
<text text-anchor="middle" x="540" y="-1092.33" textLength="113.25">rt_raster_to_gdal_mem</text>
</g>
<g id="edge46" class="edge">
<path fill="none" stroke="midnightblue" d="M365.71,-1733.1C375.02,-1691.95 411.54,-1527.97 434,-1391.83 444.14,-1330.36 429.14,-1160.85 470,-1113.83 471.04,-1112.63 472.16,-1111.5 473.33,-1110.44"/>
<polygon fill="midnightblue" stroke="midnightblue" points="475.7,-1113.04 481.81,-1104.38 471.64,-1107.34 475.7,-1113.04"/>
</g>
<g id="edge44" class="edge">
<path fill="none" stroke="midnightblue" d="M779.53,-985.32C797.23,-982.92 816.23,-980.35 831.77,-978.25"/>
<polygon fill="midnightblue" stroke="midnightblue" points="832.48,-981.69 841.92,-976.88 831.54,-974.75 832.48,-981.69"/>
</g>
<g id="edge52" class="edge">
<path fill="none" stroke="midnightblue" d="M596.59,-1104.42C601.53,-1106.89 606.12,-1109.98 610,-1113.83 651.38,-1154.81 604.14,-1199.34 646,-1239.83 657.33,-1250.78 673.97,-1255.71 688.8,-1257.83"/>
<polygon fill="midnightblue" stroke="midnightblue" points="688.86,-1261.35 699.17,-1258.92 689.59,-1254.39 688.86,-1261.35"/>
</g>
<g id="edge54" class="edge">
<path fill="none" stroke="midnightblue" d="M605.02,-1088.74C670.65,-1081.61 767.56,-1068.38 800,-1049.83 823.96,-1036.13 843.09,-1010 854.12,-992.25"/>
<polygon fill="midnightblue" stroke="midnightblue" points="857.29,-993.77 859.39,-983.38 851.27,-990.19 857.29,-993.77"/>
</g>
<g id="edge53" class="edge">
<path fill="none" stroke="midnightblue" d="M605.2,-1093.2C663.74,-1095.31 748.7,-1107.95 800,-1158.83 833.31,-1191.86 855.03,-1337.25 862.04,-1390.87"/>
<polygon fill="midnightblue" stroke="midnightblue" points="858.61,-1391.63 863.34,-1401.11 865.55,-1390.75 858.61,-1391.63"/>
</g>
<g id="edge47" class="edge">
<path fill="none" stroke="midnightblue" d="M590.54,-1104.36C597.38,-1106.83 604.09,-1109.93 610,-1113.83 631.39,-1127.91 627.98,-1140.63 646,-1158.83 663.09,-1176.08 684.72,-1193.35 700.53,-1205.26"/>
<polygon fill="midnightblue" stroke="midnightblue" points="698.54,-1208.14 708.65,-1211.3 702.71,-1202.52 698.54,-1208.14"/>
</g>
<g id="edge48" class="edge">
<path fill="none" stroke="midnightblue" d="M550.17,-1085.28C567.33,-1067.97 606.17,-1031.41 646,-1011.83 650.88,-1009.43 656.09,-1007.31 661.41,-1005.45"/>
<polygon fill="midnightblue" stroke="midnightblue" points="662.59,-1008.75 671.06,-1002.38 660.47,-1002.08 662.59,-1008.75"/>
</g>
<g id="node36" class="node">
<polygon fill="white" stroke="red" points="671.5,-945.33 671.5,-964.33 774.5,-964.33 774.5,-945.33 671.5,-945.33"/>
<text text-anchor="middle" x="723" y="-952.33" textLength="87.00">rt_band_get_pixel</text>
</g>
<g id="edge49" class="edge">
<path fill="none" stroke="midnightblue" d="M546.45,-1085.21C560.05,-1062.14 597.88,-1003.36 646,-973.83 650.78,-970.89 655.99,-968.41 661.38,-966.31"/>
<polygon fill="midnightblue" stroke="midnightblue" points="662.88,-969.5 671.19,-962.93 660.6,-962.88 662.88,-969.5"/>
</g>
<g id="node37" class="node">
<polygon fill="white" stroke="black" points="665,-1021.33 665,-1040.33 781,-1040.33 781,-1021.33 665,-1021.33"/>
<text text-anchor="middle" x="723" y="-1028.33" textLength="99.75">rt_band_get_pixtype</text>
</g>
<g id="edge51" class="edge">
<path fill="none" stroke="midnightblue" d="M570.07,-1085.32C582.46,-1081.11 597.03,-1075.96 610,-1070.83 626.28,-1064.39 629.63,-1061.03 646,-1054.83 656.6,-1050.81 668.2,-1046.91 679.07,-1043.46"/>
<polygon fill="midnightblue" stroke="midnightblue" points="680.3,-1046.74 688.8,-1040.42 678.21,-1040.06 680.3,-1046.74"/>
</g>
<g id="edge50" class="edge">
<path fill="none" stroke="midnightblue" d="M774.72,-961.69C793.73,-964.26 814.81,-967.11 831.76,-969.4"/>
<polygon fill="midnightblue" stroke="midnightblue" points="831.35,-972.88 841.73,-970.75 832.29,-965.94 831.35,-972.88"/>
</g>
<g id="edge78" class="edge">
<path fill="none" stroke="midnightblue" d="M364.92,-1382.69C370.52,-1417.59 394.65,-1535.65 470,-1581.83 523.05,-1614.34 562.7,-1622.25 610,-1581.83 687.99,-1515.18 604.57,-1447.68 646,-1353.83 659.68,-1322.83 686.06,-1293.37 703.85,-1275.7"/>
<polygon fill="midnightblue" stroke="midnightblue" points="706.6,-1277.92 711.35,-1268.45 701.73,-1272.89 706.6,-1277.92"/>
</g>
<g id="edge79" class="edge">
<path fill="none" stroke="midnightblue" d="M364.3,-1382.33C367.98,-1419.45 386.93,-1555.18 470,-1608.83 599.07,-1692.18 686.08,-1608.92 800,-1505.83 824.52,-1483.64 844.34,-1450.33 855.26,-1429.62"/>
<polygon fill="midnightblue" stroke="midnightblue" points="858.45,-1431.06 859.89,-1420.56 852.22,-1427.88 858.45,-1431.06"/>
</g>
<g id="edge62" class="edge">
<path fill="none" stroke="midnightblue" d="M417.59,-1372.83C439.58,-1372.83 464.91,-1372.83 486.72,-1372.83"/>
<polygon fill="midnightblue" stroke="midnightblue" points="486.79,-1376.33 496.79,-1372.83 486.79,-1369.33 486.79,-1376.33"/>
</g>
<g id="edge74" class="edge">
<path fill="none" stroke="midnightblue" d="M365.96,-1363.33C375.79,-1325.13 412.72,-1178.93 434,-1056.83 444.96,-993.94 432.09,-823.19 470,-771.83 483.87,-753.04 622.15,-696.99 687.77,-671.15"/>
<polygon fill="midnightblue" stroke="midnightblue" points="689.25,-674.33 697.28,-667.41 686.69,-667.81 689.25,-674.33"/>
</g>
<g id="edge73" class="edge">
<path fill="none" stroke="midnightblue" d="M366.12,-1363.08C376.38,-1324.54 414.26,-1178.9 434,-1056.83 459.31,-900.27 407.46,-847.56 470,-701.83 507.66,-614.07 554.4,-616.47 610,-538.83 628.33,-513.23 629.77,-504.8 646,-477.83 668.65,-440.17 695.62,-396.41 710.58,-372.25"/>
<polygon fill="midnightblue" stroke="midnightblue" points="713.74,-373.78 716.03,-363.44 707.79,-370.1 713.74,-373.78"/>
</g>
<g id="edge75" class="edge">
<path fill="none" stroke="midnightblue" d="M366.23,-1363.1C376.93,-1324.62 416.2,-1179.2 434,-1056.83 442.3,-999.73 432.64,-582.79 470,-538.83 511.4,-490.11 565.34,-551.57 610,-505.83 664.26,-450.25 592.12,-390.76 646,-334.83 649.47,-331.22 653.52,-328.26 657.9,-325.83"/>
<polygon fill="midnightblue" stroke="midnightblue" points="659.64,-328.89 667.29,-321.56 656.74,-322.51 659.64,-328.89"/>
</g>
<g id="node40" class="node">
<polygon fill="white" stroke="red" points="474,-1123.33 474,-1142.33 606,-1142.33 606,-1123.33 474,-1123.33"/>
<text text-anchor="middle" x="540" y="-1130.33" textLength="115.50">rt_raster_gdal_rasterize</text>
</g>
<g id="edge63" class="edge">
<path fill="none" stroke="midnightblue" d="M370.6,-1363.12C397.23,-1326.71 491.43,-1197.88 526.08,-1150.49"/>
<polygon fill="midnightblue" stroke="midnightblue" points="528.93,-1152.53 532.01,-1142.39 523.28,-1148.4 528.93,-1152.53"/>
</g>
<g id="node41" class="node">
<polygon fill="white" stroke="black" points="478.5,-1553.33 478.5,-1572.33 601.5,-1572.33 601.5,-1553.33 478.5,-1553.33"/>
<text text-anchor="middle" x="540" y="-1560.33" textLength="107.25">rt_raster_get_x_offset</text>
</g>
<g id="edge76" class="edge">
<path fill="none" stroke="midnightblue" d="M366.73,-1382.73C376.86,-1412.14 410.86,-1499.68 470,-1543.83 472.51,-1545.7 475.19,-1547.39 477.99,-1548.91"/>
<polygon fill="midnightblue" stroke="midnightblue" points="476.71,-1552.17 487.25,-1553.22 479.66,-1545.83 476.71,-1552.17"/>
</g>
<g id="node42" class="node">
<polygon fill="white" stroke="black" points="478.5,-1515.33 478.5,-1534.33 601.5,-1534.33 601.5,-1515.33 478.5,-1515.33"/>
<text text-anchor="middle" x="540" y="-1522.33" textLength="107.25">rt_raster_get_y_offset</text>
</g>
<g id="edge77" class="edge">
<path fill="none" stroke="midnightblue" d="M368.9,-1382.37C382.68,-1405.9 421.52,-1467.25 470,-1500.83 476.09,-1505.05 483,-1508.59 490.03,-1511.55"/>
<polygon fill="midnightblue" stroke="midnightblue" points="489.04,-1514.92 499.63,-1515.22 491.54,-1508.38 489.04,-1514.92"/>
</g>
<g id="edge70" class="edge">
<path fill="none" stroke="midnightblue" d="M552.77,-1142.38C566.94,-1154.11 591.2,-1174.92 610,-1194.83 627.58,-1213.45 624.44,-1225.99 646,-1239.83 658.77,-1248.02 674.84,-1252.68 688.92,-1255.33"/>
<polygon fill="midnightblue" stroke="midnightblue" points="688.77,-1258.85 699.2,-1256.99 689.88,-1251.94 688.77,-1258.85"/>
</g>
<g id="edge72" class="edge">
<path fill="none" stroke="midnightblue" d="M606.25,-1133.57C662.33,-1131.12 742.94,-1119.96 800,-1079.83 830.54,-1058.34 849.3,-1017.35 858.22,-993.12"/>
<polygon fill="midnightblue" stroke="midnightblue" points="861.56,-994.18 861.55,-983.58 854.95,-991.88 861.56,-994.18"/>
</g>
<g id="edge71" class="edge">
<path fill="none" stroke="midnightblue" d="M587.52,-1142.39C595.06,-1144.1 602.76,-1145.94 610,-1147.83 626.19,-1152.05 629.94,-1154.13 646,-1158.83 714.21,-1178.77 749.08,-1152.26 800,-1201.83 853.73,-1254.12 862.95,-1350.07 864.35,-1391.23"/>
<polygon fill="midnightblue" stroke="midnightblue" points="860.86,-1391.38 864.57,-1401.3 867.85,-1391.23 860.86,-1391.38"/>
</g>
<g id="edge64" class="edge">
<path fill="none" stroke="midnightblue" d="M547.72,-1142.44C564.15,-1165.87 607.78,-1227.63 646,-1277.83 666.97,-1305.37 692.24,-1336.59 707.71,-1355.48"/>
<polygon fill="midnightblue" stroke="midnightblue" points="705.03,-1357.73 714.08,-1363.24 710.44,-1353.29 705.03,-1357.73"/>
</g>
<g id="edge69" class="edge">
<path fill="none" stroke="midnightblue" d="M598.73,-1123.27C602.98,-1120.77 606.84,-1117.66 610,-1113.83 677.29,-1032.11 616.39,-740.46 646,-638.83 659.93,-591.01 691.27,-540.99 709.05,-514.98"/>
<polygon fill="midnightblue" stroke="midnightblue" points="712.09,-516.74 714.93,-506.53 706.34,-512.74 712.09,-516.74"/>
</g>
<g id="edge65" class="edge">
<path fill="none" stroke="midnightblue" d="M579.49,-1142.41C589.9,-1145.99 600.81,-1150.72 610,-1156.83 629.92,-1170.06 625.89,-1183.88 646,-1196.83 652.87,-1201.25 660.6,-1204.9 668.45,-1207.91"/>
<polygon fill="midnightblue" stroke="midnightblue" points="667.42,-1211.26 678.02,-1211.28 669.74,-1204.66 667.42,-1211.26"/>
</g>
<g id="edge66" class="edge">
<path fill="none" stroke="midnightblue" d="M595.68,-1123.31C600.91,-1120.83 605.82,-1117.72 610,-1113.83 645.17,-1081.05 610.44,-1044.18 646,-1011.83 649.37,-1008.76 653.17,-1006.17 657.21,-1003.98"/>
<polygon fill="midnightblue" stroke="midnightblue" points="658.74,-1007.13 666.41,-999.82 655.85,-1000.75 658.74,-1007.13"/>
</g>
<g id="edge67" class="edge">
<path fill="none" stroke="midnightblue" d="M597.03,-1123.17C601.82,-1120.7 606.25,-1117.64 610,-1113.83 655.04,-1068.01 600.42,-1019.1 646,-973.83 650.56,-969.3 656.02,-965.79 661.91,-963.09"/>
<polygon fill="midnightblue" stroke="midnightblue" points="663.32,-966.3 671.42,-959.47 660.83,-959.76 663.32,-966.3"/>
</g>
<g id="edge68" class="edge">
<path fill="none" stroke="midnightblue" d="M585.33,-1123.23C593.73,-1120.69 602.29,-1117.58 610,-1113.83 646.5,-1096.05 683.25,-1065.94 704.25,-1047.28"/>
<polygon fill="midnightblue" stroke="midnightblue" points="706.67,-1049.82 711.75,-1040.52 701.98,-1044.62 706.67,-1049.82"/>
</g>
<g id="edge82" class="edge">
<path fill="none" stroke="midnightblue" d="M395.26,-990.33C409.42,-996.23 424.93,-1005.32 434,-1018.83 517.53,-1143.11 373.01,-1239.74 470,-1353.83 474.6,-1359.23 480.58,-1363.17 487.09,-1366.03"/>
<polygon fill="midnightblue" stroke="midnightblue" points="486.33,-1369.47 496.93,-1369.49 488.65,-1362.87 486.33,-1369.47"/>
</g>
<g id="edge90" class="edge">
<path fill="none" stroke="midnightblue" d="M395.69,-990.44C409.76,-996.33 425.08,-1005.39 434,-1018.83 526.15,-1157.56 368.78,-1259.57 470,-1391.83 495.2,-1424.76 606.48,-1457.67 672.44,-1474.77"/>
<polygon fill="midnightblue" stroke="midnightblue" points="671.67,-1478.19 682.22,-1477.28 673.41,-1471.41 671.67,-1478.19"/>
</g>
<g id="edge91" class="edge">
<path fill="none" stroke="midnightblue" d="M363.16,-971.08C362.18,-926.43 364.67,-740.23 470,-662.83 532.11,-617.18 628.06,-631.99 681.87,-645.66"/>
<polygon fill="midnightblue" stroke="midnightblue" points="681.17,-649.09 691.73,-648.27 682.96,-642.33 681.17,-649.09"/>
</g>
<g id="edge81" class="edge">
<path fill="none" stroke="midnightblue" d="M365.08,-971.08C377.91,-892.11 464.52,-359.89 470,-353.83 475.39,-347.87 482.46,-343.7 490.02,-340.81"/>
<polygon fill="midnightblue" stroke="midnightblue" points="491.25,-344.1 499.77,-337.79 489.18,-337.41 491.25,-344.1"/>
</g>
<g id="edge85" class="edge">
<path fill="none" stroke="midnightblue" d="M363.79,-971.17C365.61,-926.71 378.65,-739.28 470,-628.83 523.75,-563.84 617.9,-526.82 674.65,-509.37"/>
<polygon fill="midnightblue" stroke="midnightblue" points="675.88,-512.66 684.46,-506.44 673.87,-505.95 675.88,-512.66"/>
</g>
<g id="edge92" class="edge">
<path fill="none" stroke="midnightblue" d="M364.43,-971.12C370.4,-910.4 405.32,-583.18 470,-510.83 475.23,-504.98 481.96,-500.55 489.17,-497.21"/>
<polygon fill="midnightblue" stroke="midnightblue" points="490.46,-500.46 498.46,-493.52 487.88,-493.95 490.46,-500.46"/>
</g>
<g id="edge93" class="edge">
<path fill="none" stroke="midnightblue" d="M383.04,-990.48C397.41,-997.79 417.28,-1008.33 434,-1018.83 464.52,-1037.98 497.94,-1062.91 518.69,-1078.89"/>
<polygon fill="midnightblue" stroke="midnightblue" points="516.72,-1081.79 526.76,-1085.15 521.01,-1076.26 516.72,-1081.79"/>
</g>
<g id="edge83" class="edge">
<path fill="none" stroke="midnightblue" d="M377.86,-971.16C397.61,-958.5 434.72,-936.98 470,-928.83 543.37,-911.87 631.31,-929.22 681.52,-942.58"/>
<polygon fill="midnightblue" stroke="midnightblue" points="680.77,-946 691.34,-945.27 682.62,-939.25 680.77,-946"/>
</g>
<g id="edge84" class="edge">
<path fill="none" stroke="midnightblue" d="M417.56,-988.37C480.91,-997.2 585.93,-1011.85 654.56,-1021.42"/>
<polygon fill="midnightblue" stroke="midnightblue" points="654.44,-1024.94 664.83,-1022.85 655.41,-1018.01 654.44,-1024.94"/>
</g>
<g id="node44" class="node">
<polygon fill="white" stroke="red" points="483.5,-1313.83 483.5,-1343.83 596.5,-1343.83 596.5,-1313.83 483.5,-1313.83"/>
<text text-anchor="start" x="491.5" y="-1331.83" textLength="96.00">rt_raster_from_gdal</text>
<text text-anchor="middle" x="540" y="-1320.83" textLength="42.00">_dataset</text>
</g>
<g id="edge86" class="edge">
<path fill="none" stroke="midnightblue" d="M392.92,-990.39C407.23,-996.43 423.55,-1005.64 434,-1018.83 472.05,-1066.81 450.85,-1093.66 470,-1151.83 488.13,-1206.9 513.9,-1269.81 528.27,-1303.82"/>
<polygon fill="midnightblue" stroke="midnightblue" points="525.21,-1305.57 532.34,-1313.4 531.65,-1302.83 525.21,-1305.57"/>
</g>
<g id="edge87" class="edge">
<path fill="none" stroke="midnightblue" d="M575.77,-1313.77C586.73,-1309.01 598.88,-1303.72 610,-1298.83 626.03,-1291.78 629.63,-1289.03 646,-1282.83 660.13,-1277.48 676.03,-1272.32 689.62,-1268.18"/>
<polygon fill="midnightblue" stroke="midnightblue" points="690.92,-1271.44 699.49,-1265.21 688.91,-1264.73 690.92,-1271.44"/>
</g>
<g id="edge89" class="edge">
<path fill="none" stroke="midnightblue" d="M596.56,-1321.19C668.27,-1310.83 785.62,-1292 800,-1277.83 840.8,-1237.63 858.29,-1055 863.07,-993.85"/>
<polygon fill="midnightblue" stroke="midnightblue" points="866.58,-993.84 863.84,-983.61 859.6,-993.32 866.58,-993.84"/>
</g>
<g id="edge88" class="edge">
<path fill="none" stroke="midnightblue" d="M596.51,-1324.52C650.7,-1322.5 734.33,-1325.29 800,-1353.83 820.2,-1362.61 838.52,-1380.17 850.43,-1393.5"/>
<polygon fill="midnightblue" stroke="midnightblue" points="847.81,-1395.82 856.98,-1401.13 853.13,-1391.26 847.81,-1395.82"/>
</g>
<g id="edge96" class="edge">
<path fill="none" stroke="midnightblue" d="M195.81,-382.57C194.29,-469.21 186.74,-1108.13 291,-1260.83 335.61,-1326.16 427.96,-1353.94 486.52,-1365.35"/>
<polygon fill="midnightblue" stroke="midnightblue" points="486.21,-1368.85 496.68,-1367.23 487.49,-1361.96 486.21,-1368.85"/>
</g>
<g id="edge115" class="edge">
<path fill="none" stroke="midnightblue" d="M196.12,-382.53C197.39,-474.6 209.84,-1195.14 291,-1391.83 338.69,-1507.4 356.91,-1555.51 470,-1608.83 526.28,-1635.36 559.47,-1645.14 610,-1608.83 650.75,-1579.55 608.3,-1534.93 646,-1501.83 649.94,-1498.37 654.45,-1495.61 659.25,-1493.43"/>
<polygon fill="midnightblue" stroke="midnightblue" points="660.63,-1496.65 668.79,-1489.9 658.2,-1490.09 660.63,-1496.65"/>
</g>
<g id="edge117" class="edge">
<path fill="none" stroke="midnightblue" d="M199.63,-363.02C209.59,-337.72 240.07,-270.45 291,-244.83 354.33,-212.97 556.68,-198.12 610,-244.83 655.7,-284.86 627.37,-458 646,-515.83 661.28,-563.23 692.09,-613.42 709.42,-639.56"/>
<polygon fill="midnightblue" stroke="midnightblue" points="706.65,-641.72 715.14,-648.06 712.46,-637.81 706.65,-641.72"/>
</g>
<g id="edge95" class="edge">
<path fill="none" stroke="midnightblue" d="M240.84,-367.86C305.13,-360.74 423.09,-347.67 489.74,-340.28"/>
<polygon fill="midnightblue" stroke="midnightblue" points="490.43,-343.73 499.98,-339.15 489.66,-336.77 490.43,-343.73"/>
</g>
<g id="edge116" class="edge">
<path fill="none" stroke="midnightblue" d="M196.24,-363.13C197.76,-325.28 208.95,-186.76 291,-130.83 408.15,-50.97 501.39,-39.7 610,-130.83 680.53,-190 583.23,-267.48 646,-334.83 648.97,-338.02 652.39,-340.71 656.1,-342.97"/>
<polygon fill="midnightblue" stroke="midnightblue" points="654.7,-346.18 665.21,-347.51 657.82,-339.92 654.7,-346.18"/>
</g>
<g id="edge118" class="edge">
<path fill="none" stroke="midnightblue" d="M197.42,-363.32C204.75,-315.58 240,-102.68 291,-64.83 404.84,19.68 497.81,22.85 610,-63.83 660.16,-102.58 620.06,-143.99 646,-201.83 662.51,-238.64 690.51,-276.72 707.52,-298.23"/>
<polygon fill="midnightblue" stroke="midnightblue" points="704.88,-300.52 713.87,-306.12 710.33,-296.14 704.88,-300.52"/>
</g>
<g id="edge100" class="edge">
<path fill="none" stroke="midnightblue" d="M198.06,-362.93C204.92,-332.81 230.1,-242.14 291,-206.83 345.98,-174.94 372.08,-192.51 434,-206.83 518.82,-226.44 549.42,-230.3 610,-292.83 637.13,-320.83 627.78,-338.36 646,-372.83 666.52,-411.65 694.24,-454.95 709.9,-478.73"/>
<polygon fill="midnightblue" stroke="midnightblue" points="707.01,-480.71 715.46,-487.11 712.85,-476.84 707.01,-480.71"/>
</g>
<g id="edge119" class="edge">
<path fill="none" stroke="midnightblue" d="M204.6,-382.42C220.08,-399.01 254.44,-432.79 291,-448.83 355,-476.9 436.19,-484.71 487.89,-486.63"/>
<polygon fill="midnightblue" stroke="midnightblue" points="488.03,-490.14 498.14,-486.95 488.25,-483.14 488.03,-490.14"/>
</g>
<g id="edge121" class="edge">
<path fill="none" stroke="midnightblue" d="M207.33,-382.47C224.22,-396.16 257.63,-420.59 291,-429.83 361.08,-449.24 446.27,-434.89 496.37,-422.8"/>
<polygon fill="midnightblue" stroke="midnightblue" points="497.36,-426.16 506.21,-420.34 495.66,-419.37 497.36,-426.16"/>
</g>
<g id="edge97" class="edge">
<path fill="none" stroke="midnightblue" d="M196.31,-382.48C198.86,-456.59 218,-935.64 291,-1056.83 341.6,-1140.83 378.98,-1149.34 470,-1185.83 522.64,-1206.93 585.88,-1215.67 635.83,-1219.14"/>
<polygon fill="midnightblue" stroke="midnightblue" points="635.76,-1222.64 645.96,-1219.78 636.2,-1215.65 635.76,-1222.64"/>
</g>
<g id="edge98" class="edge">
<path fill="none" stroke="midnightblue" d="M224.73,-363.28C309.21,-336.05 554.42,-263.2 610,-315.83 663.17,-366.17 599.38,-917.37 646,-973.83 649.19,-977.69 653.03,-980.83 657.27,-983.38"/>
<polygon fill="midnightblue" stroke="midnightblue" points="655.94,-986.63 666.46,-987.83 658.99,-980.32 655.94,-986.63"/>
</g>
<g id="edge99" class="edge">
<path fill="none" stroke="midnightblue" d="M202.39,-363.03C215.92,-343.31 249.63,-299.31 291,-282.83 356.85,-256.59 557.64,-235.04 610,-282.83 642.47,-312.46 638.17,-633.57 646,-676.83 663.86,-775.53 700.35,-890.12 715.34,-935.19"/>
<polygon fill="midnightblue" stroke="midnightblue" points="712.09,-936.51 718.59,-944.88 718.73,-934.28 712.09,-936.51"/>
</g>
<g id="node46" class="node">
<polygon fill="white" stroke="red" points="306,-1028.33 306,-1047.33 419,-1047.33 419,-1028.33 306,-1028.33"/>
<text text-anchor="middle" x="362.5" y="-1035.33" textLength="96.75">rt_raster_gdal_warp</text>
</g>
<g id="edge101" class="edge">
<path fill="none" stroke="midnightblue" d="M196.31,-382.66C198.73,-454.12 216.53,-894.05 291,-999.83 298.45,-1010.41 309.81,-1018.33 321.25,-1024.11"/>
<polygon fill="midnightblue" stroke="midnightblue" points="319.81,-1027.3 330.36,-1028.3 322.74,-1020.94 319.81,-1027.3"/>
</g>
<g id="node47" class="node">
<polygon fill="white" stroke="red" points="482,-363.33 482,-382.33 598,-382.33 598,-363.33 482,-363.33"/>
<text text-anchor="middle" x="540" y="-370.33" textLength="100.50">rt_raster_set_offsets</text>
</g>
<g id="edge120" class="edge">
<path fill="none" stroke="midnightblue" d="M240.84,-372.83C299.65,-372.83 403.37,-372.83 471.64,-372.83"/>
<polygon fill="midnightblue" stroke="midnightblue" points="471.86,-376.33 481.86,-372.83 471.86,-369.33 471.86,-376.33"/>
</g>
<g id="edge113" class="edge">
<path fill="none" stroke="midnightblue" d="M367.69,-1047.44C379.63,-1073.73 416.5,-1147.44 470,-1185.83 537.89,-1234.54 637.89,-1250.92 689.11,-1256.3"/>
<polygon fill="midnightblue" stroke="midnightblue" points="688.98,-1259.8 699.27,-1257.29 689.66,-1252.83 688.98,-1259.8"/>
</g>
<g id="edge114" class="edge">
<path fill="none" stroke="midnightblue" d="M394.6,-1028.27C408.79,-1022.33 424.51,-1013.21 434,-999.83 493.32,-916.13 392.01,-838.47 470,-771.83 582.88,-675.37 687.98,-726.38 800,-823.83 839.79,-858.44 855.82,-921.98 861.6,-954.11"/>
<polygon fill="midnightblue" stroke="midnightblue" points="858.16,-954.77 863.24,-964.07 865.07,-953.63 858.16,-954.77"/>
</g>
<g id="edge105" class="edge">
<path fill="none" stroke="midnightblue" d="M364.94,-1047.61C372.87,-1099.93 412.84,-1345.9 470,-1391.83 526.99,-1437.62 616.55,-1431.85 672.14,-1422.24"/>
<polygon fill="midnightblue" stroke="midnightblue" points="672.91,-1425.66 682.11,-1420.41 671.64,-1418.77 672.91,-1425.66"/>
</g>
<g id="edge107" class="edge">
<path fill="none" stroke="midnightblue" d="M365.6,-1047.55C379.08,-1109.63 453.24,-1448.42 470,-1462.83 524.59,-1509.76 612.49,-1506.46 668.73,-1497.99"/>
<polygon fill="midnightblue" stroke="midnightblue" points="669.53,-1501.41 678.85,-1496.36 668.42,-1494.5 669.53,-1501.41"/>
</g>
<g id="edge108" class="edge">
<path fill="none" stroke="midnightblue" d="M395.18,-1028.27C409.33,-1022.36 424.84,-1013.27 434,-999.83 509.37,-889.22 377.71,-797.77 470,-700.83 493.27,-676.38 577.86,-665.8 642.68,-661.24"/>
<polygon fill="midnightblue" stroke="midnightblue" points="643.16,-664.72 652.9,-660.56 642.69,-657.74 643.16,-664.72"/>
</g>
<g id="edge109" class="edge">
<path fill="none" stroke="midnightblue" d="M395.82,-1028.31C409.93,-1022.43 425.23,-1013.36 434,-999.83 493.25,-908.39 403.65,-597.25 470,-510.83 474.89,-504.46 481.58,-499.78 488.87,-496.33"/>
<polygon fill="midnightblue" stroke="midnightblue" points="490.34,-499.52 498.36,-492.59 487.77,-493 490.34,-499.52"/>
</g>
<g id="edge111" class="edge">
<path fill="none" stroke="midnightblue" d="M396.22,-1028.18C410.24,-1022.31 425.34,-1013.27 434,-999.83 498.14,-900.2 415.92,-573.26 470,-467.83 479.19,-449.91 496.75,-435.53 511.86,-425.7"/>
<polygon fill="midnightblue" stroke="midnightblue" points="513.71,-428.66 520.39,-420.44 510.04,-422.71 513.71,-428.66"/>
</g>
<g id="edge102" class="edge">
<path fill="none" stroke="midnightblue" d="M369.68,-1047.45C384.32,-1069.46 423.4,-1123.68 470,-1151.83 487.4,-1162.34 604.04,-1191.97 672.37,-1208.79"/>
<polygon fill="midnightblue" stroke="midnightblue" points="671.95,-1212.29 682.5,-1211.27 673.62,-1205.49 671.95,-1212.29"/>
</g>
<g id="edge103" class="edge">
<path fill="none" stroke="midnightblue" d="M388.02,-1028.28C409.33,-1020.46 441.21,-1009.89 470,-1004.83 532.55,-993.83 605.1,-991.44 656.24,-991.44"/>
<polygon fill="midnightblue" stroke="midnightblue" points="656.49,-994.94 666.5,-991.47 656.51,-987.94 656.49,-994.94"/>
</g>
<g id="edge112" class="edge">
<path fill="none" stroke="midnightblue" d="M392.87,-1047.37C422.23,-1056.9 467.55,-1071.62 499.93,-1082.14"/>
<polygon fill="midnightblue" stroke="midnightblue" points="498.94,-1085.5 509.53,-1085.26 501.1,-1078.84 498.94,-1085.5"/>
</g>
<g id="edge104" class="edge">
<path fill="none" stroke="midnightblue" d="M419.12,-1036.74C482.63,-1035.5 586.51,-1033.47 654.58,-1032.14"/>
<polygon fill="midnightblue" stroke="midnightblue" points="654.83,-1035.64 664.76,-1031.94 654.7,-1028.64 654.83,-1035.64"/>
</g>
<g id="edge106" class="edge">
<path fill="none" stroke="midnightblue" d="M368.86,-1047.57C384.16,-1075.27 429.54,-1156.78 470,-1222.83 487.57,-1251.5 508.8,-1283.79 523.04,-1305.12"/>
<polygon fill="midnightblue" stroke="midnightblue" points="520.21,-1307.18 528.68,-1313.55 526.02,-1303.29 520.21,-1307.18"/>
</g>
<g id="edge110" class="edge">
<path fill="none" stroke="midnightblue" d="M396.28,-1028.21C410.3,-1022.35 425.4,-1013.31 434,-999.83 506.79,-885.72 384.83,-497.02 470,-391.83 471.13,-390.43 472.35,-389.14 473.65,-387.93"/>
<polygon fill="midnightblue" stroke="midnightblue" points="475.82,-390.67 481.85,-381.96 471.7,-385.02 475.82,-390.67"/>
</g>
<g id="edge124" class="edge">
<path fill="none" stroke="midnightblue" d="M373.83,-420.43C390.15,-436.35 421.31,-470.01 434,-505.83 465.49,-594.72 411.27,-1280.04 470,-1353.83 474.57,-1359.57 480.72,-1363.68 487.46,-1366.6"/>
<polygon fill="midnightblue" stroke="midnightblue" points="486.34,-1369.91 496.93,-1369.88 488.63,-1363.3 486.34,-1369.91"/>
</g>
<g id="edge123" class="edge">
<path fill="none" stroke="midnightblue" d="M378.85,-401.2C399.09,-388.83 436.11,-367.36 470,-353.83 476.36,-351.29 483.17,-348.96 489.96,-346.87"/>
<polygon fill="midnightblue" stroke="midnightblue" points="491.2,-350.16 499.82,-343.99 489.24,-343.44 491.2,-350.16"/>
</g>
<g id="edge127" class="edge">
<path fill="none" stroke="midnightblue" d="M370.36,-401.1C385.52,-380.57 424.16,-333.3 470,-315.83 528.14,-293.66 555.65,-285.54 610,-315.83 612.07,-316.98 682.91,-432.79 710.84,-478.54"/>
<polygon fill="midnightblue" stroke="midnightblue" points="707.91,-480.46 716.11,-487.17 713.89,-476.81 707.91,-480.46"/>
</g>
<g id="edge128" class="edge">
<path fill="none" stroke="midnightblue" d="M385.73,-420.45C416.58,-433.82 472.56,-458.05 507.65,-473.25"/>
<polygon fill="midnightblue" stroke="midnightblue" points="506.39,-476.52 516.95,-477.28 509.17,-470.09 506.39,-476.52"/>
</g>
<g id="edge130" class="edge">
<path fill="none" stroke="midnightblue" d="M417.59,-410.83C435.86,-410.83 456.42,-410.83 475.36,-410.83"/>
<polygon fill="midnightblue" stroke="midnightblue" points="475.39,-414.33 485.39,-410.83 475.39,-407.33 475.39,-414.33"/>
</g>
<g id="edge129" class="edge">
<path fill="none" stroke="midnightblue" d="M407.79,-401.24C431.26,-396.16 460.28,-389.87 485.06,-384.51"/>
<polygon fill="midnightblue" stroke="midnightblue" points="486,-387.88 495.03,-382.35 484.52,-381.04 486,-387.88"/>
</g>
<g id="node49" class="node">
<polygon fill="white" stroke="red" points="653,-173.33 653,-192.33 793,-192.33 793,-173.33 653,-173.33"/>
<text text-anchor="middle" x="723" y="-180.33" textLength="123.00">rt_band_check_is_nodata</text>
</g>
<g id="edge125" class="edge">
<path fill="none" stroke="midnightblue" d="M369.9,-401.32C385,-379.5 424.99,-325.24 470,-292.83 536.23,-245.13 626.41,-212.08 678.99,-195.38"/>
<polygon fill="midnightblue" stroke="midnightblue" points="680.17,-198.68 688.68,-192.36 678.09,-192 680.17,-198.68"/>
</g>
<g id="node50" class="node">
<polygon fill="white" stroke="red" points="490.5,-781.33 490.5,-800.33 589.5,-800.33 589.5,-781.33 490.5,-781.33"/>
<text text-anchor="middle" x="540" y="-788.33" textLength="82.50">rt_raster_to_gdal</text>
</g>
<g id="edge131" class="edge">
<path fill="none" stroke="midnightblue" d="M372.12,-420.45C386.53,-436.92 415.73,-472.04 434,-505.83 484.97,-600.08 521.18,-724.28 533.95,-771.49"/>
<polygon fill="midnightblue" stroke="midnightblue" points="530.61,-772.54 536.56,-781.31 537.37,-770.74 530.61,-772.54"/>
</g>
<g id="edge126" class="edge">
<path fill="none" stroke="midnightblue" d="M733.01,-192.57C749.6,-211.19 784.71,-253.79 800,-296.83 844.79,-422.83 860.82,-855.94 863.91,-953.99"/>
<polygon fill="midnightblue" stroke="midnightblue" points="860.42,-954.13 864.22,-964.02 867.41,-953.92 860.42,-954.13"/>
</g>
<g id="edge132" class="edge">
<path fill="none" stroke="midnightblue" d="M589.77,-795.99C597.57,-798.94 604.79,-803.34 610,-809.83 658.5,-870.19 633.96,-1429.33 646,-1505.83 662.07,-1607.92 700.04,-1726.17 715.39,-1771.65"/>
<polygon fill="midnightblue" stroke="midnightblue" points="712.08,-1772.8 718.62,-1781.14 718.71,-1770.55 712.08,-1772.8"/>
</g>
<g id="edge133" class="edge">
<path fill="none" stroke="midnightblue" d="M583.67,-800.4C592.55,-802.99 601.72,-806.12 610,-809.83 704.07,-851.9 803.32,-925.72 844.65,-957.98"/>
<polygon fill="midnightblue" stroke="midnightblue" points="842.54,-960.78 852.56,-964.21 846.87,-955.28 842.54,-960.78"/>
</g>
</g>
</svg>
</body></html>
